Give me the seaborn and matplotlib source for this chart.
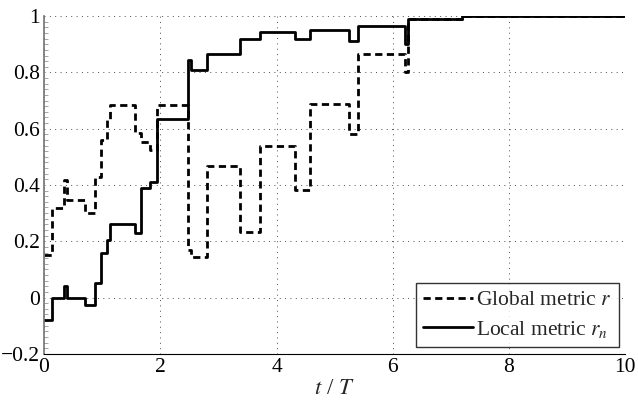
import numpy as np
import pandas as pd
import matplotlib
matplotlib.use("Agg")
import matplotlib.pyplot as plt
from matplotlib.ticker import FuncFormatter, MultipleLocator
import seaborn as sns

# step times (t/T) and values of the two metrics
t_steps = [0, 0.13, 0.34, 0.40, 0.71, 0.88, 0.975, 1.08, 1.136, 1.57, 1.66, 1.82,
           1.95, 2.48, 2.53, 2.80, 3.38, 3.71, 4.31, 4.57, 5.24, 5.41, 6.21, 6.26,
           7.19, 10]
local_r = [-0.08, 0.0, 0.04, 0.0, -0.027, 0.053, 0.157, 0.204, 0.261, 0.23, 0.39,
           0.41, 0.633, 0.843, 0.81, 0.865, 0.92, 0.942, 0.92, 0.95, 0.912, 0.965,
           0.90, 0.99, 1.0, 1.0]
global_r = [0.15, 0.317, 0.417, 0.346, 0.30, 0.43, 0.56, 0.63, 0.684, 0.583, 0.553,
            0.524, 0.684, 0.17, 0.145, 0.468, 0.234, 0.539, 0.382, 0.687, 0.58,
            0.865, 0.80, 0.99, 1.0, 1.0]

x_ticks = [0, 2, 4, 6, 8, 10]
y_ticks = [-0.2, 0, 0.2, 0.4, 0.6, 0.8, 1]

df = pd.DataFrame({"t": t_steps, "global": global_r, "local": local_r})

sns.set_style("white")
plt.rcParams["font.family"] = ["Liberation Serif", "DejaVu Serif"]
plt.rcParams["mathtext.fontset"] = "stix"
plt.rcParams["axes.unicode_minus"] = True

fig = plt.figure(figsize=(6.38, 4.03), dpi=100)
ax = fig.add_axes([0.069, 0.122, 0.911, 0.838])

sns.lineplot(data=df, x="t", y="global", ax=ax, color="k", lw=2.0,
             drawstyle="steps-post", label="Global metric $r$")
sns.lineplot(data=df, x="t", y="local", ax=ax, color="k", lw=2.0,
             drawstyle="steps-post", label="Local metric $r_n$")
ax.lines[0].set_dashes((2.6, 1.6))

ax.set_xlim(0, 10)
ax.set_ylim(-0.2, 1)
ax.set_xticks(x_ticks)
ax.set_yticks(y_ticks)
ax.yaxis.set_major_formatter(FuncFormatter(lambda v, p: ("%g" % round(v, 2)).replace("-", "\u2212")))
ax.yaxis.set_minor_locator(MultipleLocator(0.02))

ax.grid(True, which="major", color="0.3", linestyle=(0, (1, 4.5)), linewidth=0.7)
ax.tick_params(axis="both", which="major", direction="in", length=5, width=0.8,
               labelsize=15.5, colors="k", pad=3)
ax.tick_params(axis="y", which="minor", direction="in", length=3, width=0.5,
               color="0.5", left=True)

for s in ["top", "right"]:
    ax.spines[s].set_visible(False)
ax.spines["bottom"].set_color("k")
ax.spines["bottom"].set_linewidth(0.8)
ax.spines["left"].set_color("0.45")
ax.spines["left"].set_linewidth(1.2)

ax.set_xlabel("$t$ / $T$", fontsize=16.5, labelpad=1)
ax.set_ylabel("")

leg = ax.legend(loc="lower right", fontsize=15.5, frameon=True, fancybox=False,
                edgecolor="k", handlelength=2.3, handletextpad=0.15,
                borderpad=0.35, labelspacing=0.4, borderaxespad=0.3)
leg.get_frame().set_linewidth(1.0)

fig.savefig("out.png", dpi=100)
